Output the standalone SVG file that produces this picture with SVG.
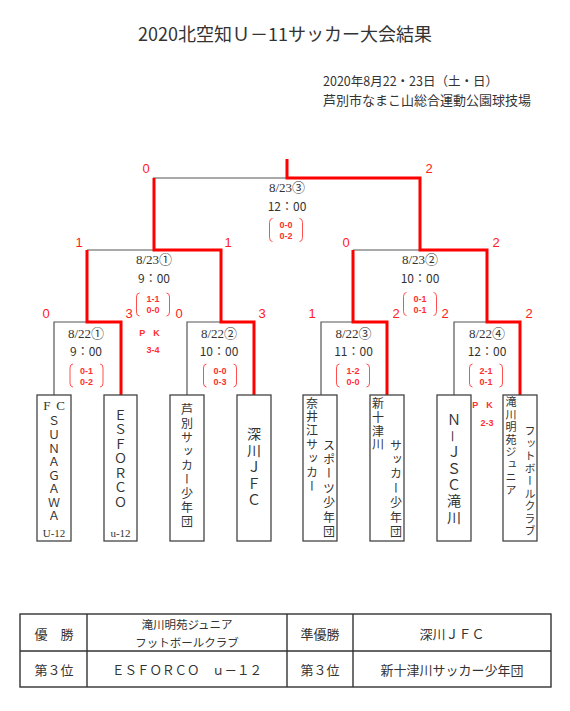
<svg xmlns="http://www.w3.org/2000/svg" width="570" height="711" viewBox="0 0 570 711">
<style>
.g{fill:none;stroke:#555;stroke-width:1.2}
.r{fill:none;stroke:#ff0000;stroke-width:3;stroke-linejoin:miter}
.box{fill:#fff;stroke:#444;stroke-width:1.3}
.tl{fill:none;stroke:#333;stroke-width:1.4}
.t{font-family:"Liberation Serif","Noto Sans CJK JP",serif;fill:#333;text-anchor:middle;dominant-baseline:central}
.j{font-family:"Noto Sans CJK JP",sans-serif;fill:#333;text-anchor:middle;dominant-baseline:central}
.js{font-family:"Noto Sans CJK JP",sans-serif;fill:#333;text-anchor:start;dominant-baseline:central}
.v{font-family:"Noto Sans CJK JP",sans-serif;fill:#333;writing-mode:vertical-rl;text-anchor:start}
.sc{font-family:"Liberation Sans",sans-serif;fill:#ff2020;font-size:13px;text-anchor:middle;dominant-baseline:central}
.ps{font-family:"Liberation Sans",sans-serif;font-weight:bold;fill:#ff3030;font-size:9px;text-anchor:middle;dominant-baseline:central}
.pb{fill:none;stroke:#ff5050;stroke-width:1}
</style>
<rect width="570" height="711" fill="#fff"/>
<g id="title">
<text class="j" x="285" y="33" font-size="18">2020北空知Ｕ－11サッカー大会結果</text>
<text class="js" x="323" y="80" font-size="12.5">2020年8月22・23日（土・日）</text>
<text class="js" x="323" y="99" font-size="13">芦別市なまこ山総合運動公園球技場</text>
</g>
<g id="connectors">
<polyline class="g" points="153,178 287,178"/>
<polyline class="g" points="87,250 154,250"/>
<polyline class="g" points="353,250 420,250"/>
<polyline class="g" points="54,395 54,322 87,322"/>
<polyline class="g" points="187,395 187,322 221,322"/>
<polyline class="g" points="321,395 321,322 353,322"/>
<polyline class="g" points="454,395 454,322 487,322"/>
<polyline class="r" points="520,395 520,322 487,322 487,250 420,250 420,178 287,178 287,159"/>
<polyline class="r" points="254,395 254,322 221,322 221,250 154,250 154,178"/>
<polyline class="r" points="121,395 121,322 87,322 87,250"/>
<polyline class="r" points="387,395 387,322 353,322 353,250"/>
</g>
<defs>
<g id="paren">
<path class="pb" d="M-13.5,-11.5 Q-16.5,-11.5 -16.5,-7.5 V7.5 Q-16.5,11.5 -13.5,11.5"/>
<path class="pb" d="M13.5,-11.5 Q16.5,-11.5 16.5,-7.5 V7.5 Q16.5,11.5 13.5,11.5"/>
</g>
</defs>
<g id="match-final">
<text class="t" x="287" y="187" font-size="13">8/23③</text>
<text class="j" x="287" y="205" font-size="12">12：00</text>
<use href="#paren" x="286" y="230"/>
<text class="ps" x="286" y="225">0-0</text><text class="ps" x="286" y="236">0-2</text>
<text class="sc" x="146" y="168">0</text><text class="sc" x="429" y="168">2</text>
</g>
<g id="match-sf1">
<text class="t" x="154" y="259" font-size="13">8/23①</text>
<text class="j" x="154" y="277" font-size="12">9：00</text>
<use href="#paren" x="153" y="304.5"/>
<text class="ps" x="153" y="299">1-1</text><text class="ps" x="153" y="310">0-0</text>
<text class="sc" x="79" y="242">1</text><text class="sc" x="228" y="242">1</text>
<text class="ps" x="153.5" y="333" style="letter-spacing:8px">PK</text>
<text class="ps" x="153" y="350">3-4</text>
</g>
<g id="match-sf2">
<text class="t" x="420" y="259" font-size="13">8/23②</text>
<text class="j" x="420" y="277" font-size="12">10：00</text>
<use href="#paren" x="420" y="304"/>
<text class="ps" x="420" y="299">0-1</text><text class="ps" x="420" y="310">0-1</text>
<text class="sc" x="346" y="242">0</text><text class="sc" x="496" y="242">2</text>
</g>
<g id="match-r1-1">
<text class="t" x="86" y="333" font-size="13">8/22①</text>
<text class="j" x="86" y="350" font-size="12">9：00</text>
<use href="#paren" x="86.5" y="375.5"/>
<text class="ps" x="86.5" y="371">0-1</text><text class="ps" x="86.5" y="382">0-2</text>
<text class="sc" x="46" y="313">0</text><text class="sc" x="129" y="313">3</text>
</g>
<g id="match-r1-2">
<text class="t" x="219" y="333" font-size="13">8/22②</text>
<text class="j" x="219" y="350" font-size="12">10：00</text>
<use href="#paren" x="220" y="375.5"/>
<text class="ps" x="220" y="371">0-0</text><text class="ps" x="220" y="382">0-3</text>
<text class="sc" x="179" y="313">0</text><text class="sc" x="262" y="313">3</text>
</g>
<g id="match-r1-3">
<text class="t" x="353.5" y="333" font-size="13">8/22③</text>
<text class="j" x="353.5" y="350" font-size="12">11：00</text>
<use href="#paren" x="353" y="375.5"/>
<text class="ps" x="353" y="371">1-2</text><text class="ps" x="353" y="382">0-0</text>
<text class="sc" x="312" y="313">1</text><text class="sc" x="396" y="313">2</text>
</g>
<g id="match-r1-4">
<text class="t" x="487" y="333" font-size="13">8/22④</text>
<text class="j" x="487" y="350" font-size="12">12：00</text>
<use href="#paren" x="486" y="375.5"/>
<text class="ps" x="486" y="371">2-1</text><text class="ps" x="486" y="382">0-1</text>
<text class="sc" x="445" y="313">2</text><text class="sc" x="529" y="313">2</text>
<text class="ps" x="486.5" y="405" style="letter-spacing:8px">PK</text>
<text class="ps" x="487" y="423">2-3</text>
</g>
<g id="team-sunagawa">
<rect class="box" x="37" y="395" width="34" height="146"/>
<text class="t" x="54.7" y="405" font-size="13" style="letter-spacing:1.3px">F C</text>
<text class="v" x="54" y="415" font-size="12" style="letter-spacing:1.57px">ＳＵＮＡＧＡＷＡ</text>
<text class="t" x="54" y="533" font-size="11">U-12</text>
</g>
<g id="team-esforco">
<rect class="box" x="104" y="395" width="33" height="146"/>
<text class="v" x="120.5" y="408.5" font-size="13" style="letter-spacing:1.5px">ＥＳＦＯＲＣＯ</text>
<text class="t" x="120.5" y="533" font-size="11">u-12</text>
</g>
<g id="team-ashibetsu">
<rect class="box" x="170" y="395" width="34" height="146"/>
<text class="v" x="187" y="403" font-size="12" style="letter-spacing:2.06px">芦別サッカー少年団</text>
</g>
<g id="team-fukagawa">
<rect class="box" x="237" y="395" width="34" height="146"/>
<text class="v" x="254" y="427" font-size="14" style="letter-spacing:2.5px">深川ＪＦＣ</text>
</g>
<g id="team-naie">
<rect class="box" x="303" y="395" width="34" height="146"/>
<text class="v" x="312" y="397" font-size="12" style="letter-spacing:1.9px">奈井江サッカー</text>
<text class="v" x="329" y="439" font-size="12" style="letter-spacing:2.4px">スポーツ少年団</text>
</g>
<g id="team-shintotsukawa">
<rect class="box" x="370" y="395" width="34" height="146"/>
<text class="v" x="378" y="397.5" font-size="12" style="letter-spacing:1.8px">新十津川</text>
<text class="v" x="396" y="439" font-size="12" style="letter-spacing:2.4px">サッカー少年団</text>
</g>
<g id="team-njsc">
<rect class="box" x="437" y="395" width="34" height="146"/>
<text class="v" x="454" y="413" font-size="14" style="letter-spacing:2.2px">Ｎ－ＪＳＣ滝川</text>
</g>
<g id="team-meien">
<rect class="box" x="503" y="395" width="34" height="146"/>
<text class="v" x="511" y="396.5" font-size="11" style="letter-spacing:1.5px">滝川明苑ジュニア</text>
<text class="v" x="530" y="425.5" font-size="11" style="letter-spacing:1.5px">フットボールクラブ</text>
</g>
<g id="results-table">
<rect class="tl" x="20" y="614" width="531" height="73"/>
<line class="tl" x1="20" y1="651" x2="551" y2="651"/>
<line class="tl" x1="87" y1="614" x2="87" y2="687"/>
<line class="tl" x1="287" y1="614" x2="287" y2="687"/>
<line class="tl" x1="353" y1="614" x2="353" y2="687"/>
<text class="j" x="54" y="633" font-size="13">優　勝</text>
<text class="j" x="187" y="624" font-size="11.5">滝川明苑ジュニア</text>
<text class="j" x="187" y="641.5" font-size="11.5">フットボールクラブ</text>
<text class="j" x="320" y="633" font-size="13">準優勝</text>
<text class="j" x="452" y="633" font-size="13">深川ＪＦＣ</text>
<text class="j" x="54" y="669" font-size="13">第３位</text>
<text class="j" x="187" y="669" font-size="12.5">ＥＳＦＯＲＣＯ　ｕ－１２</text>
<text class="j" x="320" y="669" font-size="13">第３位</text>
<text class="j" x="452" y="669" font-size="13">新十津川サッカー少年団</text>
</g>
</svg>
